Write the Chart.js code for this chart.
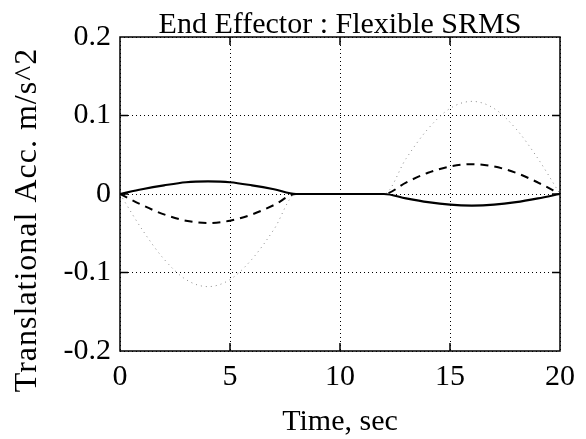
<!DOCTYPE html>
<html>
<head>
<meta charset="utf-8">
<script src="https://cdn.jsdelivr.net/npm/chart.js@4"></script>
<style>
  html, body { margin: 0; padding: 0; background: #fff; }
  canvas { display: block; }
</style>
</head>
<body>
<canvas id="grafik" width="586" height="439"></canvas>
<script>
const titleText = 'End Effector : Flexible SRMS';
const xTitle = 'Time, sec';
const yTitle = 'Translational Acc. m/s^2';

const time = [0, 1, 2, 3, 4, 5, 6, 7, 8, 9, 10, 11, 12, 13, 14, 15, 16, 17, 18, 19, 20];
const solidAcc = [0, 0.006, 0.011, 0.015, 0.016, 0.015, 0.011, 0.006, 0, 0, 0, 0, 0,
    -0.0056, -0.0104, -0.0136, -0.0147, -0.0136, -0.0104, -0.0056, 0];
const dashedAcc = [0, -0.014, -0.026, -0.034, -0.037, -0.034, -0.026, -0.014, 0, 0, 0, 0, 0,
    0.0146, 0.027, 0.035, 0.038, 0.035, 0.027, 0.0146, 0];
const dottedAcc = [0, -0.045, -0.083, -0.109, -0.118, -0.109, -0.083, -0.045, 0, 0, 0, 0, 0,
    0.045, 0.083, 0.109, 0.118, 0.109, 0.083, 0.045, 0];

const xTicks = [0, 5, 10, 15, 20];
const yTicks = [-0.2, -0.1, 0, 0.1, 0.2];

const serif = 'Liberation Serif';

function toPoints(values) {
    return time.map((t, i) => ({ x: t, y: values[i] }));
}

// frame, inward tick marks, title and y title
const frame = {
    id: 'frame',
    afterDraw(chart) {
        const { ctx, chartArea: a, scales } = chart;
        ctx.save();
        ctx.strokeStyle = '#000';
        ctx.lineWidth = 1.5;
        ctx.strokeRect(a.left, a.top, a.right - a.left, a.bottom - a.top);
        const len = 8;
        xTicks.slice(1, -1).forEach(v => {
            const x = scales.x.getPixelForValue(v);
            ctx.beginPath();
            ctx.moveTo(x, a.bottom); ctx.lineTo(x, a.bottom - len);
            ctx.moveTo(x, a.top); ctx.lineTo(x, a.top + len);
            ctx.stroke();
        });
        yTicks.slice(1, -1).forEach(v => {
            const y = scales.y.getPixelForValue(v);
            ctx.beginPath();
            ctx.moveTo(a.left, y); ctx.lineTo(a.left + len, y);
            ctx.moveTo(a.right, y); ctx.lineTo(a.right - len, y);
            ctx.stroke();
        });

        ctx.fillStyle = '#000';
        ctx.font = '30px "' + serif + '"';
        ctx.textAlign = 'center';
        ctx.textBaseline = 'alphabetic';
        ctx.fillText(titleText, (a.left + a.right) / 2, a.top - 4);

        ctx.translate(28, 220);
        ctx.rotate(-Math.PI / 2);
        ctx.font = '32px "' + serif + '"';
        ctx.letterSpacing = '1px';
        ctx.textBaseline = 'middle';
        ctx.fillText(yTitle, 0, 0);
        ctx.restore();
    }
};

const grafik = document.getElementById('grafik').getContext('2d');
new Chart(grafik, {
    type: 'line',
    data: {
        datasets: [{
            label: 'solid',
            data: toPoints(solidAcc),
            borderColor: '#000',
            borderWidth: 2.2,
            pointRadius: 0,
            fill: false,
            cubicInterpolationMode: 'monotone'
        }, {
            label: 'dashed',
            data: toPoints(dashedAcc),
            borderColor: '#000',
            borderWidth: 2,
            borderDash: [8, 6],
            pointRadius: 0,
            fill: false,
            cubicInterpolationMode: 'monotone'
        }, {
            label: 'dotted',
            data: toPoints(dottedAcc),
            borderColor: '#8a8a8a',
            borderWidth: 1,
            borderDash: [1, 4],
            pointRadius: 0,
            fill: false,
            cubicInterpolationMode: 'monotone'
        }]
    },
    options: {
        responsive: false,
        animation: false,
        layout: { padding: { top: 37, right: 26, left: 0, bottom: 0 } },
        plugins: {
            legend: { display: false },
            tooltip: { enabled: false },
            title: { display: false }
        },
        scales: {
            x: {
                type: 'linear',
                min: 0,
                max: 20,
                afterBuildTicks: s => { s.ticks = xTicks.map(v => ({ value: v })); },
                afterFit: s => { s.height = 88; },
                grid: {
                    color: '#000',
                    lineWidth: 1,
                    drawTicks: false
                },
                border: { display: false, dash: [1, 3] },
                ticks: {
                    color: '#000',
                    padding: 8,
                    maxRotation: 0,
                    font: { family: serif, size: 30 },
                    callback: v => String(v)
                },
                title: {
                    display: true,
                    text: xTitle,
                    color: '#000',
                    font: { family: serif, size: 30, lineHeight: 1.1 },
                    padding: { top: 0, bottom: 0 }
                }
            },
            y: {
                min: -0.2,
                max: 0.2,
                afterBuildTicks: s => { s.ticks = yTicks.map(v => ({ value: v })); },
                afterFit: s => { s.width = 120; },
                grid: {
                    color: '#000',
                    lineWidth: 1,
                    drawTicks: false
                },
                border: { display: false, dash: [1, 3] },
                ticks: {
                    color: '#000',
                    padding: 9,
                    font: { family: serif, size: 30 },
                    callback: v => String(Math.round(v * 10) / 10)
                }
            }
        }
    },
    plugins: [frame]
});
</script>
</body>
</html>
